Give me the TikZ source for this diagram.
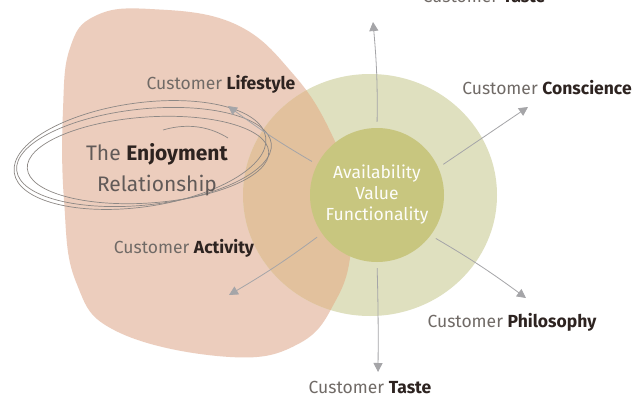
\documentclass[tikz,border=0pt]{standalone}
\usepackage{fontspec}
\setmainfont{Fira Sans}
\usetikzlibrary{arrows.meta}
\definecolor{blush}{RGB}{236,205,189}
\definecolor{sage}{RGB}{223,224,191}
\definecolor{mixtan}{RGB}{226,193,157}
\definecolor{olive}{RGB}{200,198,127}
\definecolor{ink}{RGB}{45,35,32}
\definecolor{pencil}{RGB}{112,106,102}
\definecolor{wire}{RGB}{165,165,168}
\newcommand\cust[1]{{\color{pencil}Customer} \textbf{#1}}
\begin{document}
\begin{tikzpicture}[x=1pt,y=-1pt,
	tag/.style={font=\fontsize{17.5}{20}\selectfont,text=ink,inner sep=0pt},
	ray/.style={wire,line width=0.8pt,-{Triangle[length=9pt,width=9pt]},shorten <=6pt},
	loop/.style={draw=pencil!80,line width=0.7pt}]
	\useasboundingbox (0,0) rectangle (633,399);
	\fill[white] (0,0) rectangle (633,399);
	\def\blob{plot[smooth cycle,tension=0.7] coordinates {(63,110) (64,200) (76,282) (118,332) (230,357) (300,343) (336,300) (351,250) (349,190) (332,135) (294,75) (235,24) (150,9) (95,16) (70,48)}}
	\fill[blush] \blob;
	\fill[sage] (370,195) ellipse [x radius=127,y radius=121];
	\begin{scope}
		\clip \blob;
		\fill[mixtan] (370,195) ellipse [x radius=127,y radius=121];
	\end{scope}
	\node[circle,fill=olive,minimum size=134pt,inner sep=0pt,align=center,text=white!96!olive,font=\fontsize{17.5}{21}\selectfont] (core) at (377,195) {Availability\\Value\\Functionality};
	\draw[loop] (144,157) ellipse [x radius=128,y radius=48,rotate=6];
	\draw[loop] (148,160) ellipse [x radius=121,y radius=43,rotate=4];
	\draw[loop] (140,155) ellipse [x radius=127,y radius=52,rotate=8];
	\draw[loop] (163,130) .. controls (190,122) and (212,128) .. (228,138);
	\node[tag,align=center,font=\fontsize{21}{31}\selectfont] (joy) at (157,170) {{\color{ink!75}The} \textbf{Enjoyment}\\{\color{ink!75}Relationship}};
	\node[tag] (lifestyle) at (221,84) {\cust{Lifestyle}};
	\node[tag] (conscience) at (547,88) {\cust{Conscience}};
	\node[tag] (activity) at (184,248) {\cust{Activity}};
	\node[tag] (philosophy) at (512,322) {\cust{Philosophy}};
	\node[tag] (taste) at (370,388) {\cust{Taste}};
	\node[tag] (tastetop) at (484,-3) {\cust{Taste}};
	\coordinate (upend) at (373,22);
	\coordinate (ulend) at (228,106);
	\coordinate (urend) at (528,107);
	\coordinate (llend) at (229,295);
	\coordinate (lrend) at (526,298);
	\coordinate (dnend) at (378,372);
	\draw[ray] (core.90) to[bend right=3] (upend);
	\draw[ray] (core.153) to[bend left=3] (ulend);
	\draw[ray] (core.24) -- (urend);
	\draw[ray] (core.215) to[bend left=3] (llend);
	\draw[ray] (core.-37) to[bend left=3] (lrend);
	\draw[ray] (core.270) to[bend left=1] (dnend);
\end{tikzpicture}
\end{document}
